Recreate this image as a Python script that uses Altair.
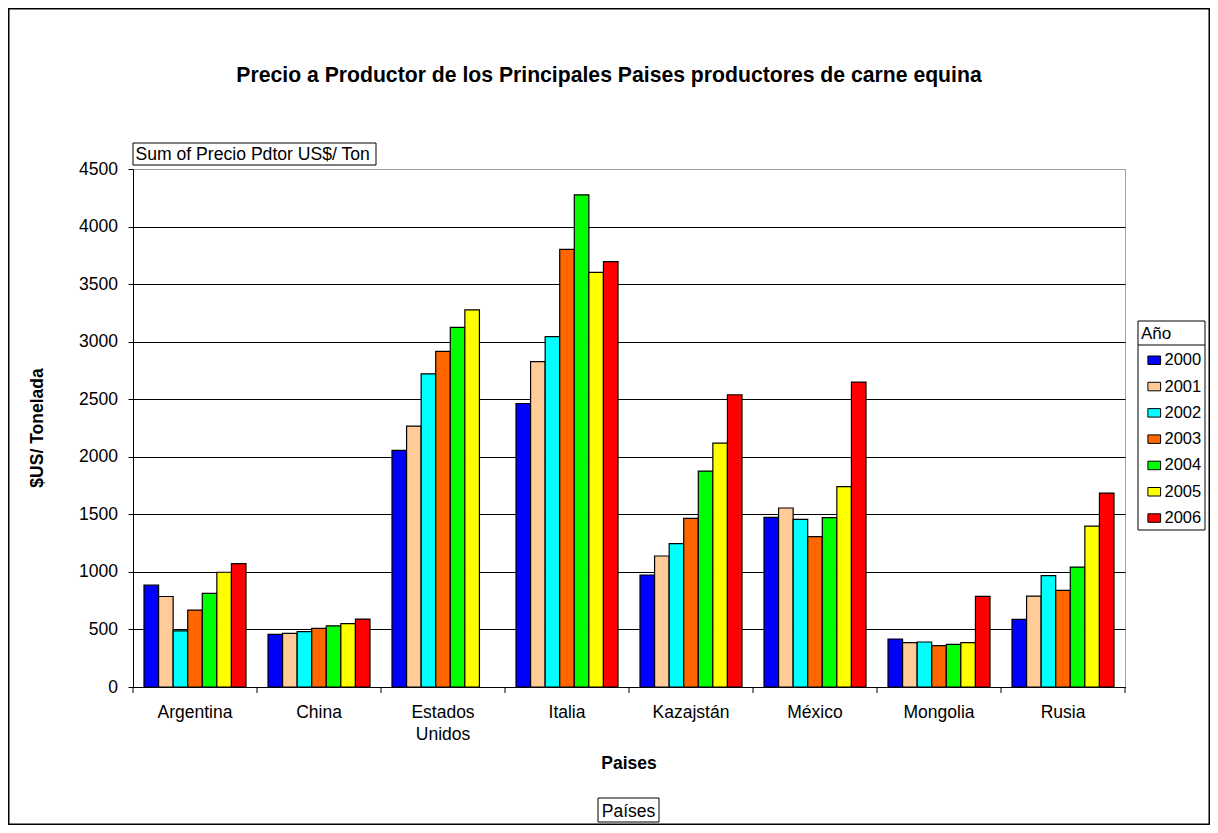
import altair as alt
import pandas as pd

# ---------------- data ----------------
paises = ["Argentina", "China", "Estados Unidos", "Italia", "Kazajstán", "México", "Mongolia", "Rusia"]
anios = ["2000", "2001", "2002", "2003", "2004", "2005", "2006"]
colores = ["#0000FF", "#FFCC99", "#00FFFF", "#FF6600", "#00FF00", "#FFFF00", "#FF0000"]

v2000 = [885, 457, 2056, 2463, 973, 1474, 417, 588]
v2001 = [786, 466, 2267, 2826, 1138, 1555, 385, 790]
v2002 = [488, 481, 2720, 3043, 1245, 1456, 391, 967]
v2003 = [668, 509, 2916, 3801, 1465, 1306, 359, 840]
v2004 = [814, 531, 3124, 4276, 1876, 1471, 371, 1042]
v2005 = [997, 550, 3276, 3602, 2119, 1740, 385, 1398]
v2006 = [1071, 590, None, 3696, 2539, 2649, 788, 1685]
series = [v2000, v2001, v2002, v2003, v2004, v2005, v2006]

y_ticks = [0, 500, 1000, 1500, 2000, 2500, 3000, 3500, 4000, 4500]

rows = []
for anio, vals in zip(anios, series):
    for pais, v in zip(paises, vals):
        if v is not None:
            rows.append({"Paises": pais, "Año": anio, "Precio": v})
df = pd.DataFrame(rows)
dummy = pd.DataFrame({"d": [0]})

FONT = "Liberation Sans"
W, H = 992, 518
FS = 17.5
LFS = 16.5

x_scale = alt.Scale(paddingInner=0, paddingOuter=0)
x_axis = alt.Axis(
    title=None, ticks=False, tickSize=0, labelAngle=0, labelFontSize=FS,
    labelPadding=16, labelBaseline="top", labelLineHeight=22,
    labelExpr="split(datum.label, ' ')", domainColor="black", labelColor="black",
    labelFont=FONT, grid=False,
)

bars = alt.Chart(df).mark_bar(stroke="black", strokeWidth=1.2).encode(
    x=alt.X("Paises:N", sort=paises, scale=x_scale, axis=x_axis),
    xOffset=alt.XOffset("Año:N", sort=anios,
                        scale=alt.Scale(domain=anios, paddingInner=0, paddingOuter=0.755)),
    y=alt.Y("Precio:Q", scale=alt.Scale(domain=[0, 4500], nice=False),
            axis=alt.Axis(title=None, values=y_ticks, format="d", grid=True,
                          gridColor={"expr": "datum.value >= 4500 ? '#a0a0a0' : '#000000'"},
                          gridWidth=1, tickSize=5, tickColor="black", domainColor="black",
                          labelPadding=10.5, labelFontSize=FS, labelColor="black",
                          labelFont=FONT)),
    color=alt.Color("Año:N", sort=anios,
                    scale=alt.Scale(domain=anios, range=colores),
                    legend=alt.Legend(
                        orient="none", legendX=1008, legendY=157, padding=0,
                        title="Año", titleFontSize=LFS + 0.5, titleFont=FONT,
                        titleFontWeight="normal", titleColor="black", titlePadding=9,
                        labelFontSize=LFS, labelFont=FONT, labelColor="black",
                        symbolType="M-1.27,-0.85H1.27V0.85H-1.27Z", symbolSize=100,
                        symbolStrokeColor="black", symbolStrokeWidth=1,
                        symbolOffset=5, labelOffset=2, rowPadding=9.3,
                    )),
)

tick_rules = alt.Chart(pd.DataFrame({"Paises": paises})).mark_rule(color="black").encode(
    x=alt.X("Paises:N", sort=paises, scale=x_scale, axis=x_axis, bandPosition=0),
    y=alt.value(H), y2=alt.value(H + 6),
)
end_tick = alt.Chart(dummy).mark_rule(color="black").encode(
    x=alt.value(W), y=alt.value(H), y2=alt.value(H + 6)
)


def box(x1, x2, y1, y2, sw=1, color="black", fill="white"):
    return alt.Chart(dummy).mark_rect(fill=fill, stroke=color, strokeWidth=sw).encode(
        x=alt.value(x1), x2=alt.value(x2), y=alt.value(y1), y2=alt.value(y2)
    )


def line(x1, x2, y1, y2, color="black"):
    return alt.Chart(dummy).mark_rule(color=color, strokeWidth=1).encode(
        x=alt.value(x1), x2=alt.value(x2), y=alt.value(y1), y2=alt.value(y2)
    )


def txt(s, x, y, size=FS, weight="normal", align="center", baseline="alphabetic", angle=0):
    return alt.Chart(dummy).mark_text(
        text=s, font=FONT, fontSize=size, fontWeight=weight, align=align,
        baseline=baseline, angle=angle, color="black"
    ).encode(x=alt.value(x), y=alt.value(y))


outer = alt.Chart(dummy).mark_rect(fillOpacity=0, stroke="black", strokeWidth=1.5).encode(
    x=alt.value(-124.25), x2=alt.value(1076.25), y=alt.value(-160.25), y2=alt.value(655.25)
)

layers = [
    bars, tick_rules, end_tick,
    box(0, 243, -26, -4),
    txt("Sum of Precio Pdtor US$/ Ton", 2.5, -9.5, size=17.6, align="left"),
    txt("Precio a Productor de los Principales Paises productores de carne equina",
        476, -87, size=21.2, weight="bold"),
    txt("$US/ Tonelada", -95, 259, weight="bold", angle=270, baseline="middle"),
    txt("Paises", 496, 600, weight="bold"),
    box(465, 526, 629, 653),
    txt("Países", 495.5, 648),
    box(1005, 1072, 152, 361, fill="transparent"),
    line(1005, 1072, 176, 176),
    outer,
]

chart = alt.layer(*layers).properties(
    width=W, height=H,
    autosize=alt.AutoSizeParams(type="none"),
    padding={"left": 125, "top": 161, "right": 85, "bottom": 138},
).configure(background="white").configure_view(stroke="#a0a0a0", strokeWidth=1)

chart.save("out.html", embed_options={"renderer": "svg", "actions": False})
